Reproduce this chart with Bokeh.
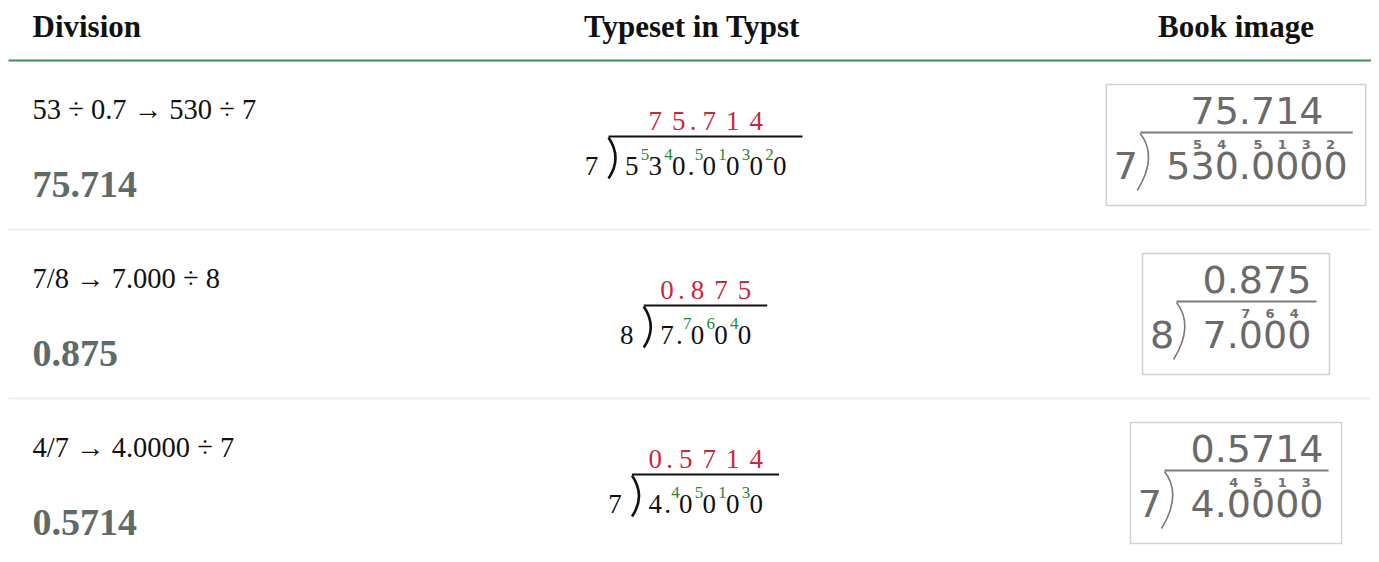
from bokeh.plotting import figure
from bokeh.models import Range1d
from bokeh.core.properties import value
from bokeh.embed import file_html
from bokeh.resources import INLINE

# ---------------- data ----------------
headers = ["Division", "Typeset in Typst", "Book image"]
divisions = ["53 ÷ 0.7 → 530 ÷ 7", "7/8 → 7.000 ÷ 8", "4/7 → 4.0000 ÷ 7"]
answers = ["75.714", "0.875", "0.5714"]
divisors = ["7", "8", "7"]
dividends = ["530.0000", "7.000", "4.0000"]
quotients = ["75.714", "0.875", "0.5714"]
carries = [["", "5", "4", "", "5", "1", "3", "2"],
           ["", "", "7", "6", "4"],
           ["", "", "4", "5", "1", "3"]]

# ---------------- layout ----------------
W, H = 1371, 554
HEADER_LINE_Y = 60
ROW_H = 169
COL1_X = 32
COL2_C = 693.5
COL3_C = 1235.5

p = figure(width=W, height=H, x_range=Range1d(0, W), y_range=Range1d(H, 0),
           output_backend="svg", toolbar_location=None, min_border=0,
           x_axis_location=None, y_axis_location=None)
p.xgrid.visible = False
p.ygrid.visible = False
p.outline_line_color = None
p.background_fill_color = "white"
p.border_fill_color = "white"

# empirical baseline correction (fraction of font size)
K = {"Liberation Serif": 0.37, "DejaVu Sans": 0.44}


def txt(x, y, t, font, size, color, align="left", style="normal"):
    fs = float(size.replace("px", ""))
    k = K.get(font, 0.4)
    if style == "bold" and font == "Liberation Serif":
        k = 0.33
    yy = [v - k * fs for v in y]
    p.text(x=x, y=yy, text=t, text_font=value(font), text_font_size=size,
           text_color=color, text_align=align, text_baseline="alphabetic",
           text_font_style=style)


# header
txt([COL1_X], [36], [headers[0]], "Liberation Serif", "31px", "#111111", "left", "bold")
txt([691.5], [36], [headers[1]], "Liberation Serif", "31px", "#111111", "center", "bold")
txt([COL3_C], [36], [headers[2]], "Liberation Serif", "31px", "#111111", "center", "bold")
p.segment(x0=[8], y0=[HEADER_LINE_Y], x1=[1371], y1=[HEADER_LINE_Y],
          line_color="#3f8e5f", line_width=2)

row_tops = [HEADER_LINE_Y + ROW_H * i for i in range(len(divisions))]
sep_y = row_tops[1:]
p.segment(x0=[8] * len(sep_y), y0=sep_y, x1=[1371] * len(sep_y), y1=sep_y,
          line_color="#e8e8e8", line_width=1.5)

# left column
txt([COL1_X] * 3, [t + 60 for t in row_tops], divisions, "Liberation Serif", "28.5px", "#111111")
txt([COL1_X] * 3, [t + 136.5 for t in row_tops], answers, "Liberation Serif", "38px", "#5f6b67",
    "left", "bold")


def typst_layout(dividend, carry):
    x = 0.0
    centers, cpos = [], []
    for ch, k in zip(dividend, carry):
        if ch == ".":
            centers.append(x + 6)
            x += 7
        else:
            if k:
                cpos.append((x + 7, k))
                x += 11
            centers.append(x + 6.25)
            x += 12.5
    return centers, cpos, x


def book_layout(dividend):
    x = 0.0
    centers, lefts = [], []
    for ch in dividend:
        adv = 12.1 if ch == "." else 24.2
        centers.append(x + adv / 2)
        lefts.append(x)
        x += adv
    return centers, lefts, x


RED = "#c8283c"
GREEN = "#1f8a34"
GRAY = "#6a6a6a"

for i, top in enumerate(row_tops):
    dv, qt, cr, ds = dividends[i], quotients[i], carries[i], divisors[i]
    off = dv.index(".") - qt.index(".")

    # ---- Typst column ----
    centers, cpos, adv = typst_layout(dv, cr)
    width = 23 + 17 + adv + 16.5
    left = COL2_C - width / 2
    px = left + 23
    start = px + 17
    base = top + 115
    txt([px - 17], [base], [ds], "Liberation Serif", "27px", "#111111", "center")
    txt([start + c for c in centers], [base] * len(dv), list(dv), "Liberation Serif", "27px",
        "#111111", "center")
    txt([start + c for c, _ in cpos], [top + 100.5] * len(cpos), [k for _, k in cpos],
        "Liberation Serif", "17px", GREEN, "center")
    qx = [start + centers[j + off] + (2 if ch == "." else 0) for j, ch in enumerate(qt)]
    txt(qx, [top + 70] * len(qt), list(qt), "Liberation Serif", "27px", RED, "center")
    p.segment(x0=[px], y0=[top + 76], x1=[start + adv + 16.5], y1=[top + 76],
              line_color="#111111", line_width=2.2)
    p.quadratic(x0=[px], y0=[top + 77], x1=[px], y1=[top + 118], cx=[px + 14],
                cy=[top + 97.5], line_color="#111111", line_width=2.6)

    # ---- Book image column ----
    bc, bl, badv = book_layout(dv)
    bw = 60 + badv + 18
    bleft = COL3_C - bw / 2
    btop = top + 24
    p.quad(left=[bleft], right=[bleft + bw], top=[btop], bottom=[btop + 121],
           fill_color=None, line_color="#d2d2d2", line_width=1.5)
    bstart = bleft + 60
    bpx = bleft + 34
    txt([bleft + 19.5], [btop + 98], [ds], "DejaVu Sans", "38px", GRAY, "center")
    txt([bstart + c for c in bc], [btop + 98] * len(dv), list(dv), "DejaVu Sans", "38px", GRAY,
        "center")
    bqx = [bstart + bc[j + off] for j in range(len(qt))]
    txt(bqx, [btop + 43] * len(qt), list(qt), "DejaVu Sans", "38px", GRAY, "center")
    ck = [(bstart + bl[j] + 7, k) for j, k in enumerate(cr) if k]
    txt([x for x, _ in ck], [btop + 66] * len(ck), [k for _, k in ck], "DejaVu Sans", "13px",
        "#707070", "center", "bold")
    p.segment(x0=[bpx], y0=[btop + 48], x1=[bstart + badv + 5], y1=[btop + 48],
              line_color="#7a7a7a", line_width=2)
    p.quadratic(x0=[bpx], y0=[btop + 49], x1=[bpx - 3], y1=[btop + 106], cx=[bpx + 18],
                cy=[btop + 72], line_color="#7a7a7a", line_width=1.6)

open("out.html", "w").write(file_html(p, INLINE))
